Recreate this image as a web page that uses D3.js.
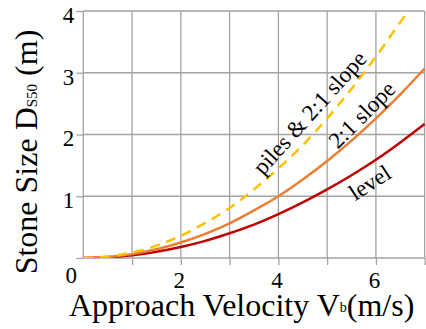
<!DOCTYPE html>
<html><head><meta charset="utf-8">
<script src="https://cdn.jsdelivr.net/npm/d3@7/dist/d3.min.js"></script>
<style>
html,body{margin:0;padding:0;background:#fff;}
svg{display:block;}
</style></head>
<body>
<svg id="chart" width="426" height="329"></svg>
<script>
// Data
const velocity = [0, 0.5, 1, 1.5, 2, 2.5, 3, 3.5, 4, 4.5, 5, 5.5, 6, 6.5, 7];
const levelD   = [0, 0.011, 0.044, 0.10, 0.177, 0.277, 0.40, 0.54, 0.71, 0.90, 1.11, 1.34, 1.59, 1.87, 2.17];
const slopeD   = [0, 0.016, 0.063, 0.141, 0.25, 0.39, 0.56, 0.77, 1.0, 1.27, 1.57, 1.90, 2.26, 2.65, 3.07];
const pilesVel = [0, 0.5, 1, 1.5, 2, 2.5, 3, 3.5, 4, 4.5, 5, 5.5, 6, 6.5, 6.62];
const pilesD   = [0, 0.023, 0.09, 0.20, 0.36, 0.57, 0.81, 1.11, 1.45, 1.83, 2.26, 2.74, 3.26, 3.82, 3.95];
const xTicks = [1, 2, 3, 4, 5, 6, 7];
const xLabels = [2, 4, 6];
const yTicks = [0, 1, 2, 3, 4];
const seriesNames = ["level", "2:1 slope", "piles & 2:1 slope"];

const FONT = '"Liberation Serif"';
const svg = d3.select("#chart");
const L = 83.3, R = 424.7, T = 11, B = 258;
const x = d3.scaleLinear().domain([0, 7]).range([L, R]);
const y = d3.scaleLinear().domain([0, 4]).range([B, T]);
const gridColor = "#a3a3a3";

// gridlines
const g = svg.append("g");
g.selectAll("line.vx").data(d3.range(0, 8)).join("line")
  .attr("x1", d => x(d)).attr("x2", d => x(d)).attr("y1", T).attr("y2", B)
  .attr("stroke", gridColor).attr("stroke-width", 1.3);
g.selectAll("line.hy").data(yTicks).join("line")
  .attr("x1", L).attr("x2", R).attr("y1", d => y(d)).attr("y2", d => y(d))
  .attr("stroke", gridColor).attr("stroke-width", 1.3);

// axes
const xAxis = d3.axisBottom(x).tickValues(xTicks).tickSize(7).tickSizeOuter(0)
  .tickFormat(d => xLabels.includes(d) ? d : "");
const xg = svg.append("g").attr("transform", `translate(0,${B})`).call(xAxis)
  .attr("font-family", null).attr("font-size", null);
xg.select(".domain").remove();
xg.selectAll(".tick line").attr("stroke", gridColor).attr("stroke-width", 1.3);
xg.selectAll(".tick text").style("font-size", "23px").style("font-family", FONT)
  .attr("fill", "#000").attr("y", 0).attr("dy", 0).attr("dx", -2)
  .attr("transform", "translate(0,30)");

const yAxis = d3.axisLeft(y).tickValues(yTicks).tickSize(7).tickSizeOuter(0)
  .tickFormat(d => d === 0 ? "" : d);
const yg = svg.append("g").attr("transform", `translate(${L},0)`).call(yAxis)
  .attr("font-family", null).attr("font-size", null);
yg.select(".domain").remove();
yg.selectAll(".tick line").attr("stroke", gridColor).attr("stroke-width", 1.3);
yg.selectAll(".tick text").style("font-size", "23px").style("font-family", FONT)
  .attr("fill", "#000").attr("x", -9).attr("dy", 0).attr("y", 11.3);

// corner zero label
svg.append("text").attr("x", x(0) - 12).attr("y", y(0) + 25)
  .attr("text-anchor", "middle").style("font-size", "23px").style("font-family", FONT).text("0");

// clip
svg.append("clipPath").attr("id", "clip").append("rect")
  .attr("x", L).attr("y", T - 2).attr("width", R - L + 2).attr("height", B - T + 2);

const line = d3.line().x(d => x(d[0])).y(d => y(d[1])).curve(d3.curveMonotoneX);
const lines = svg.append("g").attr("clip-path", "url(#clip)");
lines.append("path").datum(velocity.map((v, i) => [v, levelD[i]]))
  .attr("d", line).attr("fill", "none").attr("stroke", "#c00000").attr("stroke-width", 2.5);
lines.append("path").datum(velocity.map((v, i) => [v, slopeD[i]]))
  .attr("d", line).attr("fill", "none").attr("stroke", "#ed7d31").attr("stroke-width", 2.5);
lines.append("path").datum(pilesVel.map((v, i) => [v, pilesD[i]]))
  .attr("d", line).attr("fill", "none").attr("stroke", "#ffc000").attr("stroke-width", 2.5)
  .attr("stroke-dasharray", "10,7");

// curve labels
const labels = [
  {t: seriesNames[2], cx: 310, cy: 113, a: -48},
  {t: seriesNames[1], cx: 362, cy: 115, a: -45},
  {t: seriesNames[0], cx: 370, cy: 183, a: -33}
];
svg.selectAll("text.lab").data(labels).join("text").attr("class", "lab")
  .attr("transform", d => `translate(${d.cx},${d.cy}) rotate(${d.a})`)
  .attr("text-anchor", "middle").attr("dy", "0.32em")
  .style("font-size", "23px").style("font-family", FONT)
  .text(d => d.t);

// x title
const xt = svg.append("text").attr("x", 69).attr("y", 316).attr("text-anchor", "start")
  .style("font-size", "32px").style("font-family", FONT);
xt.append("tspan").text("Approach Velocity V");
xt.append("tspan").style("font-size", "14px").attr("dy", -4).text("b");
xt.append("tspan").attr("dy", 4).text("(m/s)");

// y title
const yt = svg.append("text").attr("transform", "translate(37,152) rotate(-90)")
  .attr("text-anchor", "middle").style("font-size", "32px").style("font-family", FONT);
yt.append("tspan").text("Stone Size D");
yt.append("tspan").style("font-size", "15px").text("S50");
yt.append("tspan").text(" (m)");
</script>
</body></html>
